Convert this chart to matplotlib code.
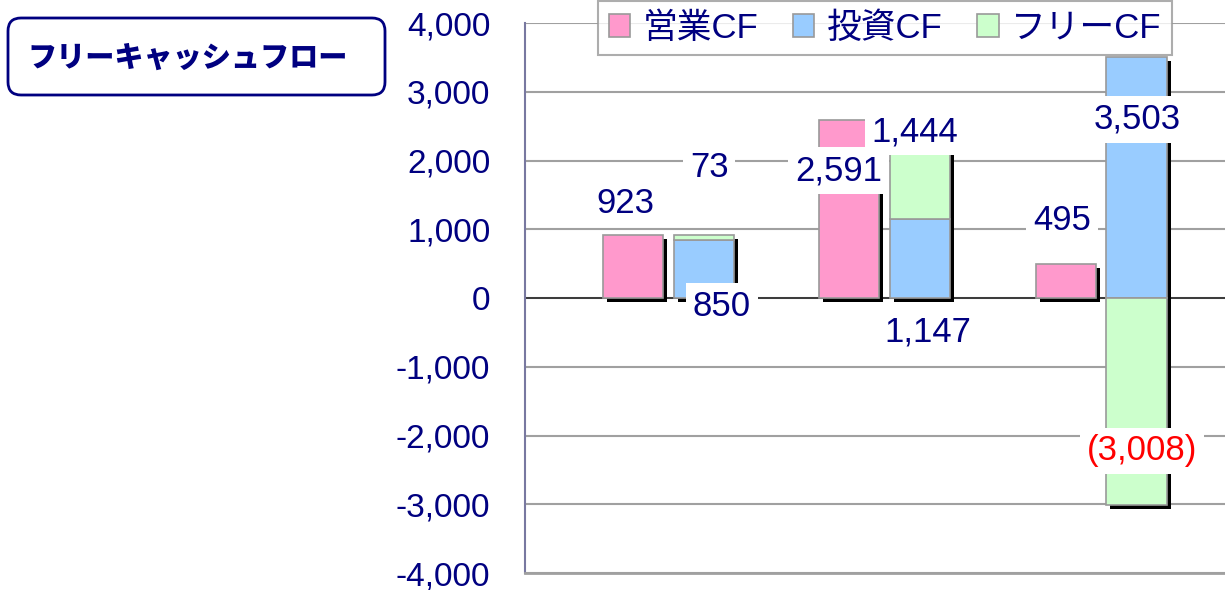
import numpy as np
import matplotlib
matplotlib.use("Agg")
import matplotlib.pyplot as plt
import matplotlib.transforms as mtransforms
from matplotlib.patches import FancyBboxPatch
from matplotlib.ticker import FuncFormatter, MultipleLocator

plt.rcParams['font.family'] = ['Liberation Sans', 'Noto Sans CJK JP']

# values (百万円)
operating_cf = np.array([923, 2591, 495])
investing_cf = np.array([850, 1147, 3503])
free_cf = np.array([73, 1444, -3008])
series_names = ['営業CF', '投資CF', 'フリーCF']
chart_title = 'フリーキャッシュフロー'

# label placement: (x offset from group centre, y in data units)
op_label_pos = [(-0.20, 1370), (-0.215, 1850), (-0.18, 1120)]
inv_label_pos = [(0.245, -130), (0.20, -495), (0.166, 2600)]
free_label_pos = [(0.187, 1905), (0.14, 2420), (0.19, -2225)]

navy = '#000080'
pink, blue, green = '#FF99CC', '#99CCFF', '#CCFFCC'

fig = plt.figure(figsize=(12.25, 5.9), dpi=100)
ax = fig.add_axes([525 / 1225, 17 / 590, 700 / 1225, 550 / 590])

x = np.arange(len(operating_cf))
w = 0.278
off = 0.164
# black drop shadow, 4px right / 4px down
shadow = mtransforms.offset_copy(ax.transData, fig=fig, x=4, y=-4, units='dots')

free_bottom = np.where(free_cf > 0, investing_cf, 0)

bars = []
for xs, vals, bottom, color, name in [
    (x - off, operating_cf, 0, pink, series_names[0]),
    (x + off, investing_cf, 0, blue, series_names[1]),
    (x + off, free_cf, free_bottom, green, series_names[2]),
]:
    ax.bar(xs, vals, w, bottom=bottom, color='black', zorder=2, transform=shadow)
    b = ax.bar(xs, vals, w, bottom=bottom, color=color, edgecolor='#999999',
               linewidth=1.2, zorder=3, label=name)
    bars.append(b)


def fmt(v):
    return f'({abs(v):,})' if v < 0 else f'{v:,}'


def put_labels(vals, pos, neg_red=False):
    for i, (v, (dx, y)) in enumerate(zip(vals, pos)):
        c = 'red' if (neg_red and v < 0) else navy
        ax.text(i + dx, y, fmt(v), ha='center', va='center', fontsize=25,
                color=c, zorder=5,
                bbox=dict(boxstyle='square,pad=0.2', fc='white', ec='none'))


put_labels(operating_cf, op_label_pos)
put_labels(investing_cf, inv_label_pos)
put_labels(free_cf, free_label_pos, neg_red=True)

# axes styling
ax.set_xlim(-0.6644, -0.6644 + 700 / 216.2)
ax.set_ylim(-4000, 4000)
ax.yaxis.set_major_locator(MultipleLocator(1000))
ax.yaxis.set_major_formatter(FuncFormatter(lambda v, p: f'{int(v):,}'))
ax.tick_params(axis='y', length=0, pad=25, labelsize=24, labelcolor=navy)
ax.set_xticks([])
ax.grid(axis='y', color='#a0a0a0', linewidth=1.5, zorder=0)
ax.set_axisbelow(True)
ax.axhline(0, color='#333333', linewidth=1.3, zorder=1)
for s in ['top', 'right']:
    ax.spines[s].set_visible(False)
ax.spines['left'].set_color('#7878a0')
ax.spines['left'].set_linewidth(1.5)
ax.spines['bottom'].set_color('#a0a0a0')
ax.spines['bottom'].set_linewidth(2)

leg = ax.legend(handles=bars, loc='lower center',
                bbox_to_anchor=(885 / 1225, 535 / 590), bbox_transform=fig.transFigure,
                ncol=3, fontsize=25, labelcolor=navy, frameon=True, fancybox=False,
                handlelength=0.62, handleheight=0.62, handletextpad=0.35,
                columnspacing=1.0, borderpad=0.3, borderaxespad=0)
leg.get_frame().set_edgecolor('#999999')
leg.get_frame().set_linewidth(1.5)
leg.set_zorder(10)
for h in leg.legend_handles:
    h.set_edgecolor('#999999')

# title box
box = FancyBboxPatch((0.08, 4.95), 3.77, 0.77,
                     boxstyle='round,pad=0,rounding_size=0.13',
                     transform=fig.dpi_scale_trans, fc='white', ec=navy, lw=2)
fig.patches.append(box)
fig.text(1.88, 5.32, chart_title, transform=fig.dpi_scale_trans,
         ha='center', va='center', fontsize=21, fontweight='heavy', color=navy,
         family=['Noto Sans CJK JP'])

fig.savefig('out.png', dpi=100)
